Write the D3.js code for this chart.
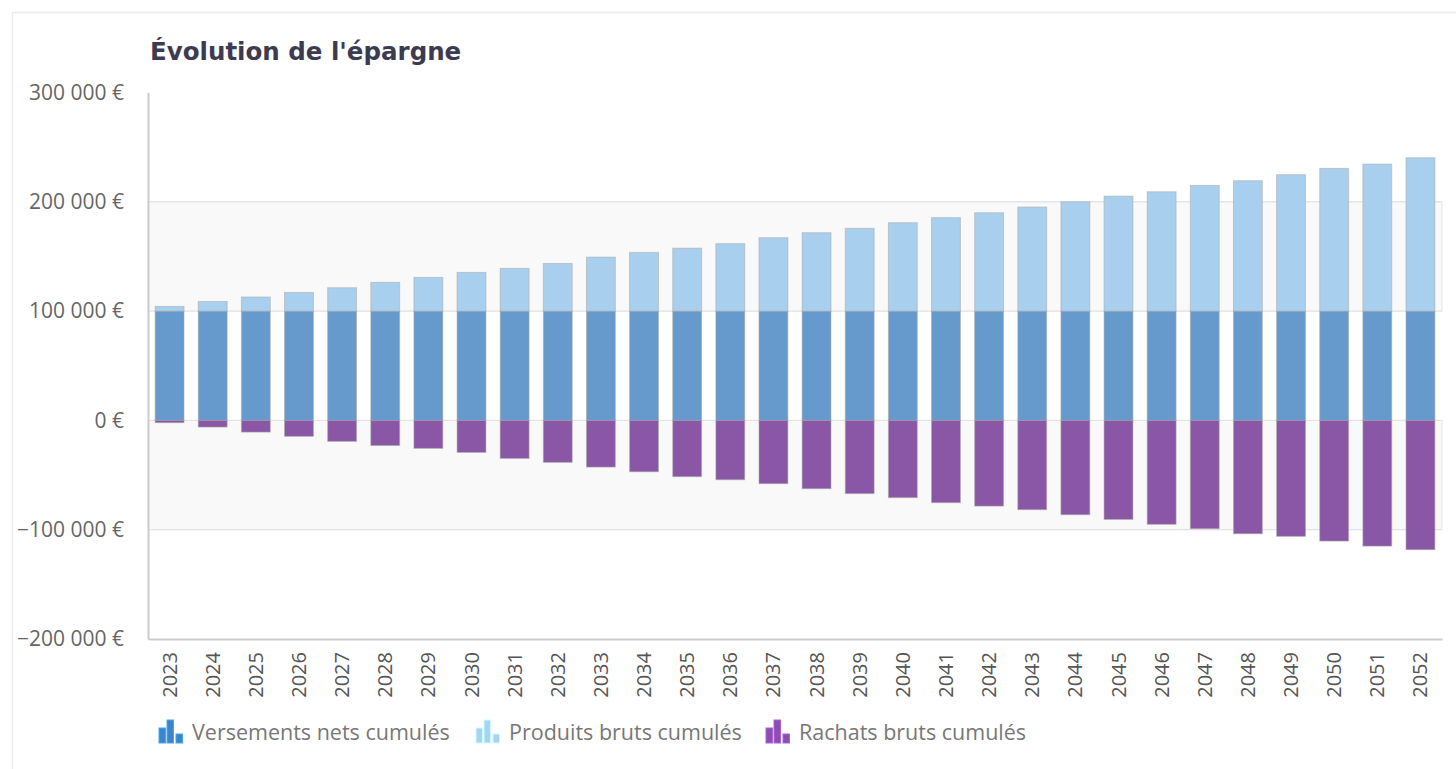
<!DOCTYPE html>
<html lang="fr">
<head>
<meta charset="UTF-8">
<title>Évolution de l'épargne</title>
<script src="https://d3js.org/d3.v7.min.js"></script>
<style>
  body { margin: 0; background: #fff; }
  text { font-family: "Open Sans", "DejaVu Sans", sans-serif; }
  .title { font-family: "DejaVu Sans", sans-serif; }
</style>
</head>
<body>
<div id="chart"></div>
<script>
// données
var years = d3.range(2023, 2053).map(String);
var versements = [100000, 100000, 100000, 100000, 100000, 100000, 100000, 100000, 100000, 100000,
  100000, 100000, 100000, 100000, 100000, 100000, 100000, 100000, 100000, 100000,
  100000, 100000, 100000, 100000, 100000, 100000, 100000, 100000, 100000, 100000];
var produits = [4300, 8800, 12900, 17100, 21400, 26300, 30800, 35400, 39100, 43600,
  49400, 53700, 57600, 61700, 67200, 71700, 75700, 80900, 85500, 90000,
  95200, 100000, 105200, 109200, 115000, 119300, 124800, 130600, 134500, 140300];
var rachats = [-2100, -6100, -10700, -14600, -19200, -23000, -25600, -29300, -34800, -38400,
  -42700, -47000, -51500, -54300, -57900, -62500, -67000, -70700, -75300, -78400,
  -81700, -86300, -90600, -95100, -99100, -103700, -106100, -110400, -115000, -118300];
var yTicks = [300000, 200000, 100000, 0, -100000, -200000];

var series = [
  { key: "versements", label: "Versements nets cumulés", color: "#669acd", icon: "#3a86c8" },
  { key: "produits", label: "Produits bruts cumulés", color: "#a8cfee", icon: "#a6d2f3" },
  { key: "rachats", label: "Rachats bruts cumulés", color: "#8957a5", icon: "#8a4fb0" }
];

var data = years.map(function (y, i) {
  return { year: y, versements: versements[i], produits: produits[i], rachats: rachats[i] };
});

var W = 1456, H = 769;
var plotLeft = 148, plotRight = 1442, plotTop = 92.5, plotBottom = 639;

var svg = d3.select("#chart").append("svg")
  .attr("width", W).attr("height", H);

// cadre
svg.append("path")
  .attr("d", "M12.5," + H + "V12.5H" + W)
  .attr("fill", "none").attr("stroke", "#ececec").attr("stroke-width", 1.5);

var x = d3.scaleBand().domain(years).range([plotLeft, plotRight])
  .paddingInner(0.33).paddingOuter(0.165);

var y = d3.scaleLinear().domain([-200000, 300000]).range([plotBottom, plotTop]);

// bandes alternées
[[200000, 100000], [0, -100000]].forEach(function (b) {
  svg.append("rect")
    .attr("x", plotLeft).attr("y", y(b[0]))
    .attr("width", plotRight - plotLeft).attr("height", y(b[1]) - y(b[0]))
    .attr("fill", "#f9f9f9").attr("stroke", "#e6e6e6");
});

// grille
svg.append("g").selectAll("line")
  .data(yTicks.filter(function (t) { return t > -200000 && t < 300000; }))
  .join("line")
  .attr("x1", plotLeft).attr("x2", plotRight)
  .attr("y1", function (d) { return y(d); }).attr("y2", function (d) { return y(d); })
  .attr("stroke", "#e3e3e3");

// barres empilées
var stack = d3.stack().keys(["versements", "produits", "rachats"])
  .offset(d3.stackOffsetDiverging);
var stacked = stack(data);

svg.append("g").selectAll("g")
  .data(stacked)
  .join("g")
  .attr("fill", function (d, i) { return series[i].color; })
  .selectAll("rect")
  .data(function (d) { return d; })
  .join("rect")
  .attr("x", function (d) { return x(d.data.year); })
  .attr("width", x.bandwidth())
  .attr("y", function (d) { return y(Math.max(d[0], d[1])); })
  .attr("height", function (d) { return Math.abs(y(d[0]) - y(d[1])); })
  .attr("stroke", "#a9a9a9").attr("stroke-opacity", 0.55).attr("stroke-width", 1);

// axe Y
var yAxis = svg.append("g")
  .attr("transform", "translate(" + plotLeft + ",0)")
  .call(d3.axisLeft(y).tickValues(yTicks).tickSize(0).tickPadding(24)
    .tickFormat(function (d) { return d3.format(",")(d).replace(/,/g, " ") + " €"; }));
yAxis.select(".domain").attr("stroke", "#cccccc").attr("stroke-width", 2);
yAxis.selectAll("text")
  .attr("font-size", 21).attr("fill", "#666");

// axe X
var xAxis = svg.append("g")
  .attr("transform", "translate(0," + plotBottom + ")")
  .call(d3.axisBottom(x).tickSize(0));
xAxis.select(".domain").attr("stroke", "#cccccc").attr("stroke-width", 2);
xAxis.selectAll("text")
  .attr("font-size", 20).attr("fill", "#555")
  .attr("transform", "rotate(-90)")
  .attr("text-anchor", "end")
  .attr("x", -13).attr("y", 0).attr("dy", "0.35em");

// titre
svg.append("text")
  .attr("class", "title")
  .attr("x", 150).attr("y", 60)
  .attr("font-size", 24.5).attr("font-weight", "bold").attr("fill", "#3d3b52")
  .text("Évolution de l'épargne");

// légende
var legendX = [159, 476, 766];
var lg = svg.append("g").selectAll("g")
  .data(series)
  .join("g")
  .attr("transform", function (d, i) { return "translate(" + legendX[i] + ",743)"; });

lg.each(function (d) {
  var g = d3.select(this);
  [[0, 15], [8, 23], [17, 9]].forEach(function (b) {
    g.append("rect")
      .attr("x", b[0]).attr("y", -b[1]).attr("width", 6.5).attr("height", b[1])
      .attr("fill", d.icon).attr("stroke", d3.color(d.icon).brighter(0.6)).attr("stroke-width", 1);
  });
});

lg.append("text")
  .attr("x", 33).attr("y", -11).attr("dy", "0.35em")
  .attr("font-size", 21.5).attr("fill", "#777")
  .text(function (d) { return d.label; });
</script>
</body>
</html>
